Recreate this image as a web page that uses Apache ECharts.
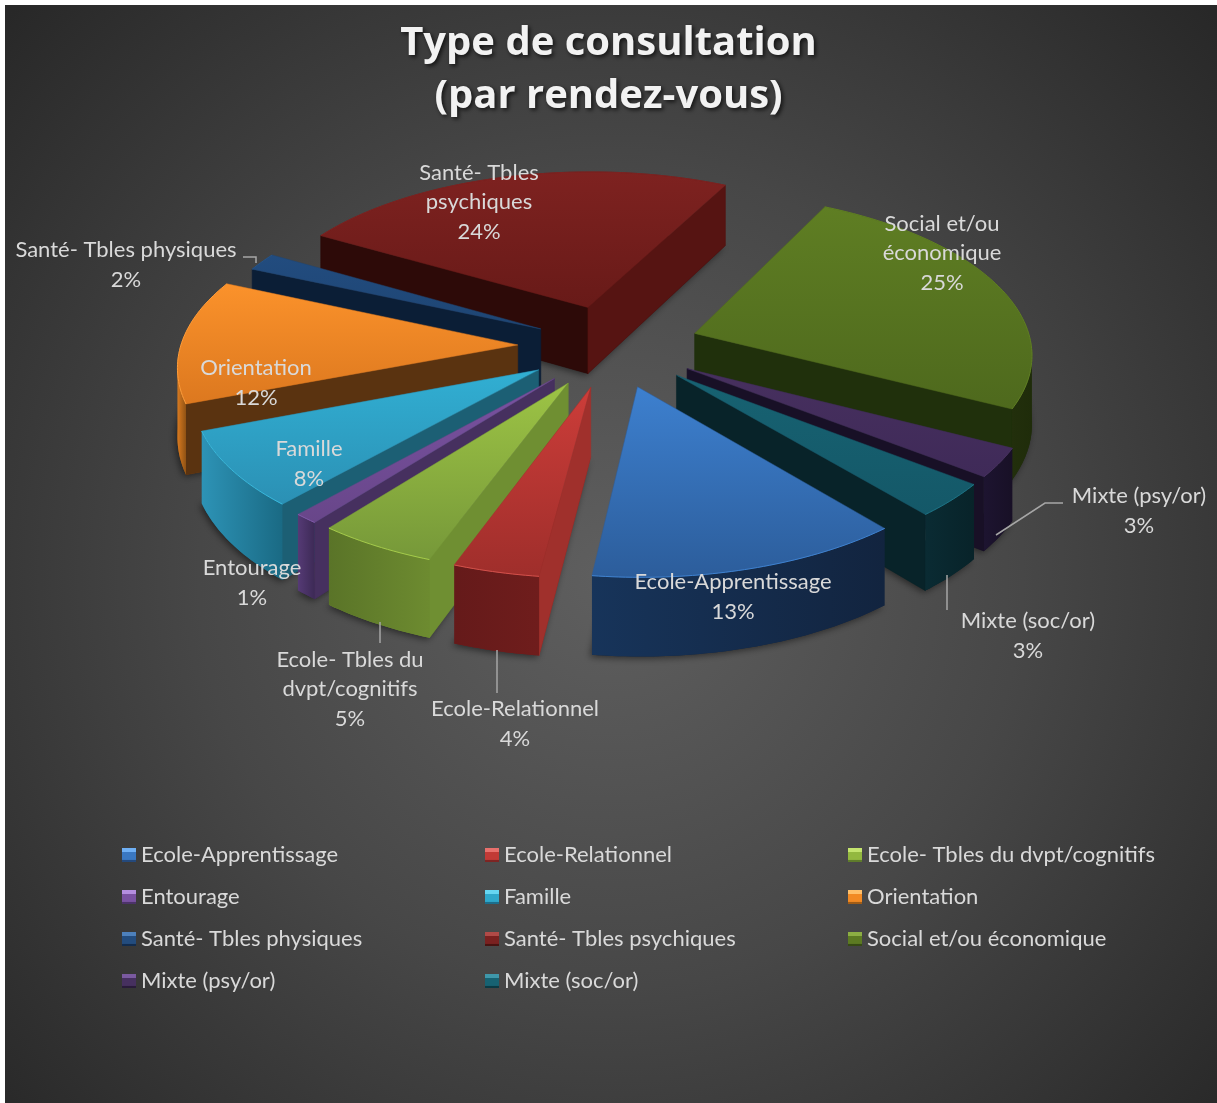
<!DOCTYPE html>
<html>
<head>
<meta charset="utf-8">
<style>html,body{margin:0;background:#fff}#main{width:1217px;height:1103px}</style>
<script src="https://cdn.jsdelivr.net/npm/echarts@6/dist/echarts.min.js"></script>
</head>
<body>
<div id="main"></div>
<script>
const categories = ['Ecole-Apprentissage', 'Ecole-Relationnel', 'Ecole- Tbles du dvpt/cognitifs', 'Entourage', 'Famille', 'Orientation', 'Santé- Tbles physiques', 'Santé- Tbles psychiques', 'Social et/ou économique', 'Mixte (psy/or)', 'Mixte (soc/or)'];
const values = [13.1, 3.6, 5, 1, 7.6, 12.4, 1.8, 24.1, 25.1, 2.9, 3.4];
const labelNames = ['Ecole-Apprentissage', 'Ecole-Relationnel', 'Ecole- Tbles du\ndvpt/cognitifs', 'Entourage', 'Famille', 'Orientation', 'Santé- Tbles physiques', 'Santé- Tbles\npsychiques', 'Social et/ou\néconomique', 'Mixte (psy/or)', 'Mixte (soc/or)'];

// far slices first, near slices last
const drawOrder = [7, 6, 8, 5, 9, 10, 4, 3, 2, 1, 0];

// top face [far, near], start edge wall, end edge wall, outer wall [start, end]
const sliceStyles = [
  { top: ['#3d80cf', '#2c5d9b'], rim: '#3f82d0', startWall: '#15294a', endWall: '#15294a', outer: ['#12243f', '#17345a'], legend: ['#6fb0f5', '#3a78c2', '#24497c'] },
  { top: ['#cc3d39', '#9f2e2b'], rim: '#d4504b', startWall: '#a0302c', endWall: '#6a1c1c', outer: ['#6f1d1c', '#651a1a'], legend: ['#e8706c', '#c23a36', '#7e2523'] },
  { top: ['#9dc445', '#769839'], rim: '#a5cc4a', startWall: '#6f8f32', endWall: '#5a7428', outer: ['#6d8b30', '#5a7428'], legend: ['#c4e46e', '#93b83f', '#5f7c2b'] },
  { top: ['#7a52a2', '#684689'], rim: '#8058a8', startWall: '#46305f', endWall: '#56396f', outer: ['#3d2a56', '#553a75'], legend: ['#b48ee0', '#7a52a2', '#4c3369'] },
  { top: ['#31afd3', '#2b90b4'], rim: '#38b8dc', startWall: '#1c5f74', endWall: '#1c5f74', outer: ['#1a6a84', '#2d93b6'], legend: ['#66d6f2', '#2fa8cb', '#1c6e8c'] },
  { top: ['#fb922b', '#dc781f'], rim: '#ff9d3a', startWall: '#5a3310', endWall: '#5a3310', outer: ['#8f5214', '#d87a20'], legend: ['#ffc06a', '#f28a24', '#a05c16'] },
  { top: ['#224c7f', '#1e4573'], rim: '#265488', startWall: '#0b1e36', endWall: '#0b1e36', outer: ['#0b1e36', '#0f2745'], legend: ['#4d80bb', '#234c7e', '#122c4e'] },
  { top: ['#7e2220', '#681a18'], rim: '#7e2220', startWall: '#2d0a08', endWall: '#561412', outer: ['#2d0a08', '#2d0a08'], legend: ['#b04a47', '#7a2120', '#491311'] },
  { top: ['#5f7e23', '#4e691d'], rim: '#5f7e23', startWall: '#20300c', endWall: '#20300c', outer: ['#1f2c0a', '#222f0c'], legend: ['#8cae43', '#5c7a22', '#364a14'] },
  { top: ['#47305f', '#3f2a58'], rim: '#47305f', startWall: '#181026', endWall: '#181026', outer: ['#181026', '#1d1430'], legend: ['#7a5aa0', '#46305f', '#291b3a'] },
  { top: ['#176272', '#145868'], rim: '#1d7385', startWall: '#082329', endWall: '#082329', outer: ['#082329', '#0a2b33'], legend: ['#3f97aa', '#176272', '#0b3a44'] }
];

const explodes = [0.26, 0.26, 0.26, 0.26, 0.26, 0.28, 0.24, 0.26, 0.26, 0.26, 0.26];

const labelPos = [[733, 597], [515, 724], [350, 689], [252, 583], [309, 464], [256, 383], [126, 265], [479, 202], [942, 253], [1139, 511], [1028, 636]];
const leaderLines = [null, [[497, 650], [497, 693]], [[380, 622], [380, 643]], null, null, null, [[243, 257], [256, 257], [256, 263]], null, null, [[1063, 503], [1045, 503], [996, 535]], [[947, 575], [947, 610]]];

const legendColumns = [[0, 3, 6, 9], [1, 4, 7, 10], [2, 5, 8]];
const legendLeft = [117, 480, 843];

const FONT = 'Lato';
const startAngle = 140;
const cx = 612, cy = 346;   // pie centre on screen
const scaleX = 337, scaleY = 159, perspective = 0.113, depth = 68;

const total = values.reduce((a, b) => a + b, 0);
const angles = [];
let acc = startAngle;
values.forEach((v) => {
  angles.push([acc, acc + v / total * 360]);
  acc += v / total * 360;
});

// plane coordinates -> screen, d = 0 on the top face, d = 1 on the bottom face
function project(wx, wy, d) {
  const g = 1 / (1 - perspective * wy);
  return [cx + scaleX * wx * g, cy + (scaleY * wy + depth * d) * g];
}

function wall(p, q, color) {
  return {
    type: 'polygon',
    shape: { points: [project(p[0], p[1], 0), project(q[0], q[1], 0), project(q[0], q[1], 1), project(p[0], p[1], 1)] },
    style: { fill: color, stroke: color, lineWidth: 0.6 }
  };
}

function renderSlice(i) {
  return function () {
    const [a0, a1] = angles[i];
    const st = sliceStyles[i];
    const mid = (a0 + a1) / 2 * Math.PI / 180;
    const ox = Math.sin(mid) * explodes[i], oy = -Math.cos(mid) * explodes[i];
    const tip = [ox, oy];
    const arc = [];
    const steps = Math.max(4, Math.ceil(a1 - a0));
    for (let k = 0; k <= steps; k++) {
      const a = (a0 + (a1 - a0) * k / steps) * Math.PI / 180;
      arc.push([ox + Math.sin(a), oy - Math.cos(a)]);
    }
    const outline = [tip, ...arc];
    const topPts = outline.map((p) => project(p[0], p[1], 0));
    const botPts = outline.map((p) => project(p[0], p[1], 1));
    const shadow = {
      type: 'polygon',
      shape: { points: botPts },
      style: { fill: st.outer[0], shadowBlur: 7, shadowColor: 'rgba(0,0,0,0.5)', shadowOffsetX: -2, shadowOffsetY: 2 }
    };
    const walls = [];
    // a wall shows when its edge runs right to left along the clockwise outline
    if (project(arc[0][0], arc[0][1], 0)[0] < project(tip[0], tip[1], 0)[0]) walls.push(wall(tip, arc[0], st.startWall));
    if (project(tip[0], tip[1], 0)[0] < project(arc[steps][0], arc[steps][1], 0)[0]) walls.push(wall(arc[steps], tip, st.endWall));
    // the visible part of the outer wall, drawn as one shape
    const seen = arc.filter((p, k) =>
      (k < steps && project(arc[k + 1][0], arc[k + 1][1], 0)[0] < project(p[0], p[1], 0)[0]) ||
      (k > 0 && project(p[0], p[1], 0)[0] < project(arc[k - 1][0], arc[k - 1][1], 0)[0]));
    if (seen.length > 1) {
      walls.push({
        type: 'polygon',
        shape: { points: [...seen.map((p) => project(p[0], p[1], 0)), ...seen.map((p) => project(p[0], p[1], 1)).reverse()] },
        style: {
          fill: new echarts.graphic.LinearGradient(0, 0, 1, 0, [{ offset: 0, color: st.outer[1] }, { offset: 1, color: st.outer[0] }])
        }
      });
    }
    const top = {
      type: 'polygon',
      shape: { points: topPts },
      style: {
        fill: new echarts.graphic.LinearGradient(0, 0, 0, 1, [{ offset: 0, color: st.top[0] }, { offset: 1, color: st.top[1] }]),
        stroke: st.top[1], lineWidth: 0.5
      }
    };
    const rim = {
      type: 'polyline',
      shape: { points: topPts.slice(1) },
      style: { fill: 'none', stroke: st.rim, lineWidth: 1 }
    };
    return { type: 'group', silent: true, children: [shadow, ...walls, top, rim] };
  };
}

function renderLabel(params, api) {
  const i = params.dataIndex;
  const children = [{
    type: 'text',
    style: {
      x: labelPos[i][0], y: labelPos[i][1],
      text: labelNames[i] + '\n' + Math.round(api.value(0)) + '%',
      fill: '#d9d9d9', fontFamily: FONT, fontSize: 22, lineHeight: 29.5,
      align: 'center', verticalAlign: 'middle'
    }
  }];
  if (leaderLines[i]) {
    children.push({
      type: 'polyline',
      shape: { points: leaderLines[i] },
      style: { fill: 'none', stroke: '#a6a6a6', lineWidth: 1.5 }
    });
  }
  return { type: 'group', silent: true, children };
}

const myChart = echarts.init(document.getElementById('main'));
myChart.setOption({
  animation: false,
  title: {
    text: 'Type de consultation\n(par rendez-vous)',
    left: 603.5, top: 12, textAlign: 'center',
    textStyle: {
      color: '#f2f2f2', fontFamily: 'Open Sans', fontWeight: 'bold', fontSize: 40, lineHeight: 53,
      textShadowColor: 'rgba(0,0,0,0.7)', textShadowBlur: 4, textShadowOffsetX: 2, textShadowOffsetY: 2
    }
  },
  graphic: [{
    type: 'rect', z: -10,
    shape: { x: 5, y: 5, width: 1212, height: 1098 },
    style: {
      fill: new echarts.graphic.RadialGradient(0.5, 0.52, 0.75, [
        { offset: 0, color: '#5f5f5f' },
        { offset: 0.5, color: '#474747' },
        { offset: 1, color: '#282828' }
      ])
    }
  }],
  legend: legendColumns.map((col, c) => ({
    orient: 'vertical',
    left: legendLeft[c], top: 836,
    itemWidth: 14, itemHeight: 14, itemGap: 14,
    selectedMode: false,
    textStyle: { color: '#d9d9d9', fontFamily: FONT, fontSize: 22, lineHeight: 28 },
    data: col.map((i) => ({
      name: categories[i],
      icon: 'rect',
      itemStyle: {
        color: new echarts.graphic.LinearGradient(0, 0, 0, 1, [
          { offset: 0, color: sliceStyles[i].legend[0] },
          { offset: 0.3, color: sliceStyles[i].legend[0] },
          { offset: 0.32, color: sliceStyles[i].legend[1] },
          { offset: 0.82, color: sliceStyles[i].legend[1] },
          { offset: 0.84, color: sliceStyles[i].legend[2] },
          { offset: 1, color: sliceStyles[i].legend[2] }
        ])
      }
    }))
  })),
  series: [
    ...drawOrder.map((i, order) => ({
      name: categories[i],
      type: 'custom',
      coordinateSystem: 'none',
      z: 2 + order,
      itemStyle: { color: sliceStyles[i].top[0] },
      renderItem: renderSlice(i),
      data: [[values[i]]]
    })),
    {
      name: 'labels',
      type: 'custom',
      coordinateSystem: 'none',
      z: 30,
      renderItem: renderLabel,
      data: values.map((v) => [v])
    }
  ]
});
</script>
</body>
</html>
